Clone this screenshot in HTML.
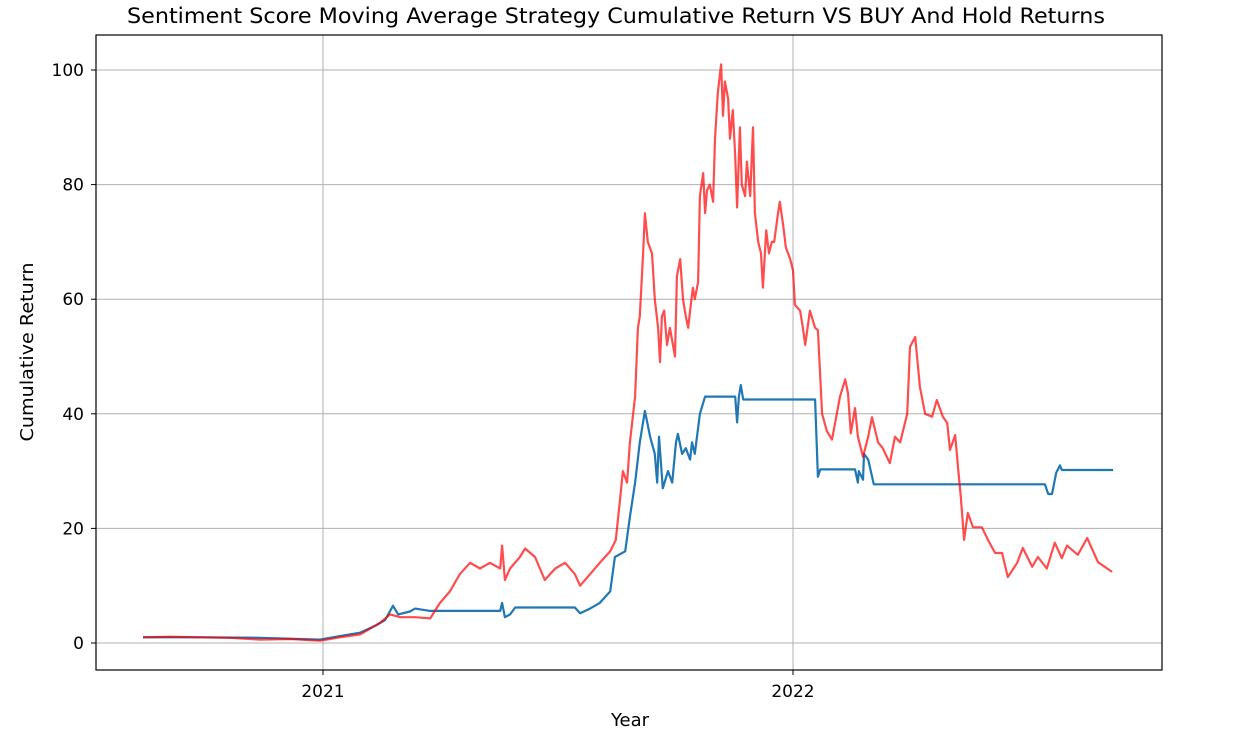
<!DOCTYPE html>
<html><head><meta charset="utf-8"><style>
body{margin:0;background:#fff;font-family:"Liberation Sans","DejaVu Sans",sans-serif}
svg text{font-family:"DejaVu Sans","Liberation Sans",sans-serif;fill:#000}
</style></head><body>
<svg id="chart" width="1237" height="735" xmlns="http://www.w3.org/2000/svg">
<text x="616" y="23" font-size="21.5" text-anchor="middle" textLength="978" lengthAdjust="spacingAndGlyphs">Sentiment Score Moving Average Strategy Cumulative Return VS BUY And Hold Returns</text>
<g id="grid"></g>
<g id="series"></g>
<rect x="96" y="35" width="1066" height="635" fill="none" stroke="#000" stroke-width="1.2"/>
<g id="ticks"></g>
<text x="630" y="726" font-size="18" text-anchor="middle">Year</text>
<text transform="translate(33,352) rotate(-90)" font-size="18" text-anchor="middle" textLength="179" lengthAdjust="spacingAndGlyphs">Cumulative Return</text>
</svg>
<script>
const yTicks=[0,20,40,60,80,100];
const xTicks=[2021,2022];
const xTickLabels=["2021","2022"];
const redT=[2020.617,2020.674,2020.738,2020.802,2020.866,2020.930,2020.994,2021.036,2021.079,2021.100,2021.121,2021.143,2021.164,2021.196,2021.228,2021.249,2021.270,2021.291,2021.313,2021.334,2021.355,2021.377,2021.381,2021.387,2021.398,2021.419,2021.430,2021.451,2021.472,2021.494,2021.515,2021.536,2021.547,2021.568,2021.589,2021.611,2021.623,2021.632,2021.638,2021.647,2021.653,2021.664,2021.670,2021.674,2021.681,2021.685,2021.691,2021.700,2021.706,2021.713,2021.717,2021.721,2021.726,2021.732,2021.738,2021.749,2021.753,2021.760,2021.766,2021.772,2021.777,2021.781,2021.787,2021.791,2021.798,2021.802,2021.809,2021.813,2021.817,2021.823,2021.830,2021.834,2021.840,2021.847,2021.851,2021.855,2021.862,2021.866,2021.872,2021.877,2021.881,2021.887,2021.891,2021.898,2021.902,2021.909,2021.915,2021.919,2021.926,2021.932,2021.936,2021.943,2021.949,2021.955,2021.960,2021.968,2021.972,2021.979,2021.985,2021.994,2022.000,2022.004,2022.015,2022.021,2022.026,2022.036,2022.047,2022.053,2022.062,2022.072,2022.083,2022.100,2022.111,2022.117,2022.123,2022.132,2022.138,2022.149,2022.160,2022.168,2022.181,2022.191,2022.206,2022.217,2022.228,2022.243,2022.249,2022.260,2022.270,2022.281,2022.296,2022.306,2022.319,2022.328,2022.334,2022.345,2022.351,2022.357,2022.364,2022.372,2022.383,2022.402,2022.415,2022.430,2022.445,2022.457,2022.477,2022.489,2022.509,2022.521,2022.540,2022.557,2022.572,2022.583,2022.606,2022.626,2022.649,2022.679];
const redV=[1.0,1.1,1.0,0.9,0.6,0.7,0.4,1.0,1.5,2.5,3.5,5,4.5,4.5,4.3,7,9,12,14,13,14,13,17,11,13,15,16.5,15,11,13,14,12,10,12,14,16,18,25,30,28,35,43,55,57,68,75,70,68,60,55,49,57,58,52,55,50,64,67,60,57,55,58,62,60,63,78,82,75,79,80,77,88,96,101,92,98,95,88,93,85,76,90,80,78,84,78,90,75,70,68,62,72,68,70,70,75,77,73,69,67,65,59,58,55,52,58,55,54.6,40,37,35.5,43,46,43.6,36.6,41,36,32.5,36,39.4,35,34,31.4,36,35,40,51.7,53.4,44.7,40,39.5,42.4,39.5,38.4,33.7,36.3,30.7,25.5,18,22.7,20.2,20.2,18,15.7,15.7,11.5,14,16.6,13.3,15,13,17.5,14.8,17,15.4,18.3,14.1,12.4,13.3];
const blueT=[2020.617,2020.738,2020.866,2020.994,2021.036,2021.079,2021.111,2021.132,2021.149,2021.160,2021.185,2021.196,2021.228,2021.377,2021.381,2021.387,2021.398,2021.409,2021.536,2021.547,2021.568,2021.589,2021.611,2021.621,2021.643,2021.653,2021.664,2021.674,2021.685,2021.696,2021.706,2021.711,2021.715,2021.723,2021.734,2021.743,2021.751,2021.755,2021.764,2021.772,2021.781,2021.785,2021.791,2021.802,2021.813,2021.877,2021.881,2021.885,2021.889,2021.894,2022.047,2022.053,2022.058,2022.132,2022.138,2022.140,2022.149,2022.151,2022.160,2022.172,2022.536,2022.543,2022.551,2022.560,2022.568,2022.572,2022.681];
const blueV=[1.0,1.0,0.9,0.6,1.2,1.8,3,4,6.5,5,5.5,6,5.6,5.6,7,4.5,5,6.2,6.2,5.2,6,7,9,15,16,22,28,35,40.5,36,33,28,36,27,30,28,35,36.5,33,34,32,35,33,40,43,43,38.5,43,45,42.5,42.5,29,30.3,30.3,28,30,28.5,33,32,27.7,27.7,26,26,29.7,31,30.2,30.2];
const X0=96,X1=1162,Y0=35,Y1=670;
const xs=t=>323+(t-2021)*470;
const ys=v=>643-v*5.73;
const NS="http://www.w3.org/2000/svg";
const grid=document.getElementById('grid'),ticks=document.getElementById('ticks'),ser=document.getElementById('series');
function mk(tag,attrs,parent){const e=document.createElementNS(NS,tag);for(const k in attrs)e.setAttribute(k,attrs[k]);parent.appendChild(e);return e;}
yTicks.forEach(v=>{const y=ys(v);
 const g=mk('line',{x1:X0,x2:X1,y1:y,y2:y,stroke:'#b0b0b0','stroke-width':1},grid);
 
 
 const t=mk('line',{x1:X0-5,x2:X0,y1:y,y2:y,stroke:'#000'},ticks);
 
 
 const l=mk('text',{x:X0-12,y:y+6,'font-size':17,'text-anchor':'end'},ticks);l.textContent=v;
 
 
});
xTicks.forEach((v,i)=>{const x=xs(v);
 const g=mk('line',{x1:x,x2:x,y1:Y0,y2:Y1,stroke:'#b0b0b0','stroke-width':1},grid);
 
 
 const t=mk('line',{x1:x,x2:x,y1:Y1,y2:Y1+5,stroke:'#000'},ticks);
 
 
 const l=mk('text',{x:x,y:Y1+27,'font-size':17,'text-anchor':'middle'},ticks);l.textContent=xTickLabels[i];
 
 
});
function path(T,V){return T.map((t,i)=>(i?'L':'M')+xs(t).toFixed(1)+','+ys(V[i]).toFixed(1)).join('');}
const b=mk('path',{d:path(blueT,blueV),fill:'none',stroke:'#1f77b4','stroke-width':2.2,'stroke-linejoin':'round'},ser);


const r=mk('path',{d:path(redT,redV),fill:'none',stroke:'#ff0000','stroke-opacity':0.7,'stroke-width':2.2,'stroke-linejoin':'round'},ser);


</script>
</body></html>
